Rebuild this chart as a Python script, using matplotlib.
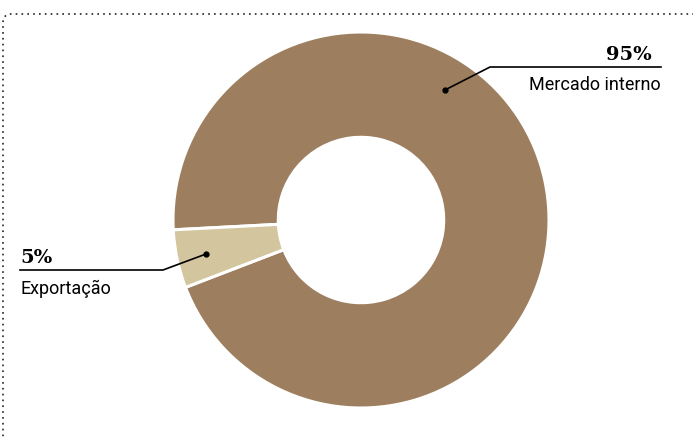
import matplotlib.pyplot as plt
from matplotlib.patches import FancyBboxPatch

# dados
categorias = ["Mercado interno", "Exportação"]
valores = [95, 5]
rotulos = ["95%", "5%"]
cores = ["#9d7f5f", "#d3c59e"]

W, H = 693, 438
fig = plt.figure(figsize=(W / 100, H / 100), dpi=100)

# moldura pontilhada (só topo e esquerda visíveis)
moldura = FancyBboxPatch((3 / W, -0.2), 1.2, (H - 14) / H + 0.2,
                         boxstyle="round,pad=0,rounding_size=0.012",
                         transform=fig.transFigure, fill=False,
                         linestyle=(0, (1, 2.5)), linewidth=1.2,
                         edgecolor="#222222", mutation_aspect=W / H)
fig.patches.append(moldura)

# rosca
cx, cy, r = 361, 220, 188
ax = fig.add_axes([(cx - r) / W, (H - cy - r) / H, 2 * r / W, 2 * r / H])
wedges, _ = ax.pie(valores, colors=cores, startangle=201, counterclock=True,
                   radius=1, wedgeprops=dict(width=0.56, edgecolor="white",
                                             linewidth=2.2))
ax.set_xlim(-1, 1)
ax.set_ylim(-1, 1)
ax.set_aspect("equal")
ax.axis("off")

# anotações em coordenadas de pixel
ov = fig.add_axes([0, 0, 1, 1])
ov.set_xlim(0, W)
ov.set_ylim(H, 0)
ov.axis("off")

num_font = dict(family="DejaVu Serif", weight="bold", fontsize=14)
lab_font = dict(family=["Roboto", "DejaVu Sans"], fontsize=13)

# Mercado interno
ov.plot([445, 490, 661], [90, 67, 67], color="black", lw=1.2)
ov.plot(445, 90, "o", color="black", ms=3.5)
ov.text(652, 60, rotulos[0], ha="right", va="baseline", **num_font)
ov.text(661, 90, categorias[0], ha="right", va="baseline", **lab_font)

# Exportação
ov.plot([206, 163, 20], [254, 270, 270], color="black", lw=1.2)
ov.plot(206, 254, "o", color="black", ms=3.5)
ov.text(20, 263, rotulos[1], ha="left", va="baseline", **num_font)
ov.text(20, 294, categorias[1], ha="left", va="baseline", **lab_font)

fig.savefig("out.png", dpi=100)
